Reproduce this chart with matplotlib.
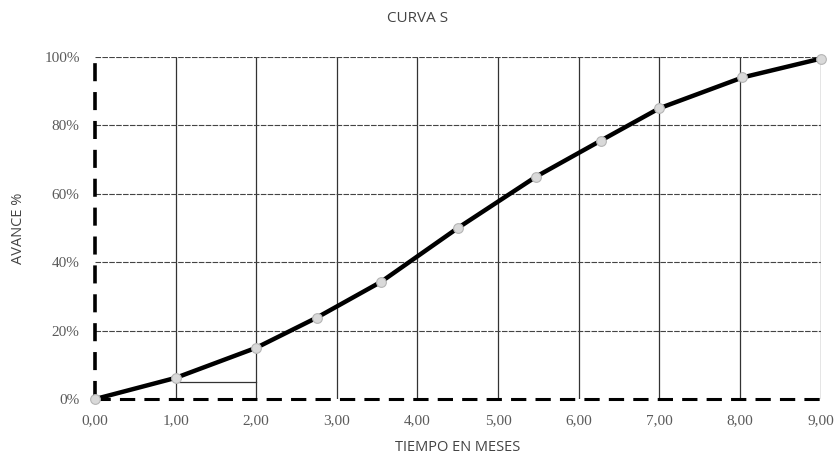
import matplotlib
matplotlib.use('Agg')
import matplotlib.pyplot as plt
from matplotlib.ticker import FuncFormatter

# Curva S data
meses = [0.0, 1.0, 2.0, 2.75, 3.55, 4.5, 5.47, 6.27, 7.0, 8.03, 9.0]
avance = [0.0, 6.2, 15.0, 23.8, 34.3, 50.0, 65.0, 75.5, 85.0, 94.0, 99.5]
x_ticks = [0, 1, 2, 3, 4, 5, 6, 7, 8, 9]
y_ticks = [0, 20, 40, 60, 80, 100]
caja_x = [1.0, 2.0]
caja_y = 4.9

fig = plt.figure(figsize=(8.36, 4.63), dpi=100)
ax = fig.add_axes([0.1136, 0.138, 0.868, 0.739])

ax.set_xlim(0, 9)
ax.set_ylim(0, 100)

# grid: vertical solid, horizontal finely dashed
for xv in x_ticks[1:]:
    ax.axvline(xv, color='#333333', linewidth=0.9, zorder=1)
for yv in y_ticks[1:]:
    ax.axhline(yv, color='#444444', linewidth=0.8, linestyle=(0, (5, 1.2)), zorder=1)

# small box between 1 and 2 months
ax.plot(caja_x, [caja_y, caja_y], color='#333333', linewidth=0.9, zorder=1)

# thick dashed axes
ax.plot([0, 0], [0, 100], color='black', linewidth=2.6, linestyle=(0, (5, 3)), zorder=2, clip_on=False)
ax.plot([0, 9], [0, 0], color='black', linewidth=2.2, linestyle=(0, (5, 3)), zorder=2, clip_on=False)

ax.plot(meses, avance, color='black', linewidth=3.2, zorder=3, clip_on=False,
        marker='o', markersize=7, markerfacecolor='#d9d9d9', markeredgecolor='#b5b5b5',
        markeredgewidth=0.8)

for s in ax.spines.values():
    s.set_visible(False)

ax.set_xticks(x_ticks)
ax.set_yticks(y_ticks)
ax.xaxis.set_major_formatter(FuncFormatter(lambda v, p: f'{v:.2f}'.replace('.', ',')))
ax.yaxis.set_major_formatter(FuncFormatter(lambda v, p: f'{v:.0f}%'))
ax.tick_params(length=0, pad=11, labelsize=11, labelcolor='#5a5a5a')
for lab in ax.get_xticklabels() + ax.get_yticklabels():
    lab.set_family('Liberation Serif')

ax.set_xlabel('TIEMPO EN MESES', fontsize=10.5, color='#444444', family='Open Sans', labelpad=9)
ax.set_ylabel('AVANCE %', fontsize=10.5, color='#444444', family='Open Sans', labelpad=13)
fig.text(0.5, 0.96, 'CURVA S', ha='center', va='center', fontsize=11, color='#444444', family='Open Sans')

fig.savefig('out.png', dpi=100, facecolor='white')
